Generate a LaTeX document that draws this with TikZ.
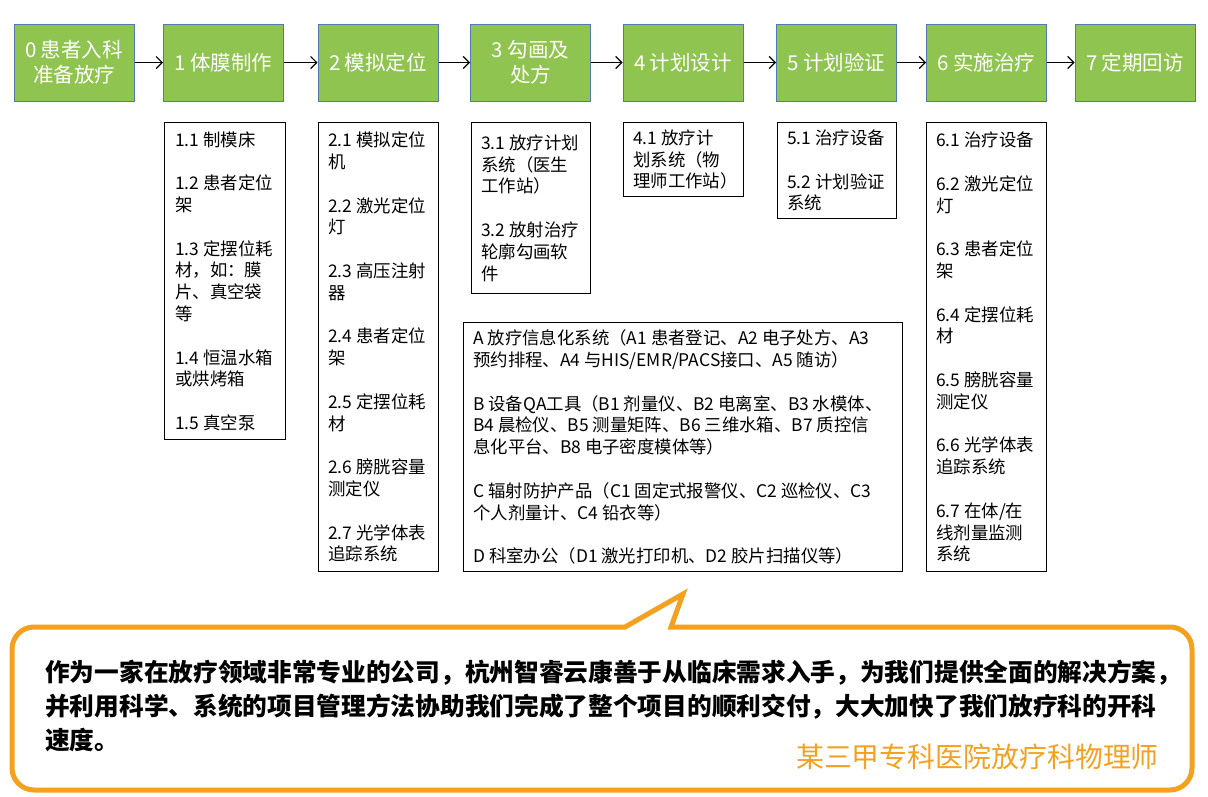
\documentclass[tikz,border=0pt]{standalone}
\usepackage{fontspec}
\setmainfont{Noto Sans CJK SC}
\usetikzlibrary{arrows.meta}
\definecolor{gfill}{HTML}{8FC450}
\definecolor{gline}{HTML}{4F7BB0}
\definecolor{org}{HTML}{F3A11F}
\begin{document}
\begin{tikzpicture}[x=1pt,y=-1pt,
  stage/.style={draw=gline, line width=1pt, fill=gfill, minimum width=120pt, minimum height=77pt,
    text=white, font=\fontsize{20.5}{25}\selectfont, align=center, inner sep=0pt},
  subbox/.style={draw=black, line width=1.1pt, fill=white, anchor=north west, inner sep=0pt},
  subtext/.style={anchor=west, align=left, inner sep=0pt, font=\fontsize{17.4}{21.8}\selectfont},
  conn/.style={-{Straight Barb[length=6pt,width=12pt]}, line width=1.2pt},
  callout/.style={draw=org, line width=5pt, line join=miter},
]
\useasboundingbox (0,0) rectangle (1208,796);
\fill[white] (0,0) rectangle (1208,796);

% stages
\node[stage] (s0) at (74,62.5) {0 患者入科\\准备放疗};
\node[stage] (s1) at (223.5,62.5) {1 体膜制作};
\node[stage] (s2) at (378,62.5) {2 模拟定位};
\node[stage] (s3) at (530.5,62.5) {3 勾画及\\处方};
\node[stage] (s4) at (683,62.5) {4 计划设计};
\node[stage] (s5) at (836.5,62.5) {5 计划验证};
\node[stage] (s6) at (986.5,62.5) {6 实施治疗};
\node[stage] (s7) at (1135,62.5) {7 定期回访};

\draw[conn] (s0) -- (s1);
\draw[conn] (s1) -- (s2);
\draw[conn] (s2) -- (s3);
\draw[conn] (s3) -- (s4);
\draw[conn] (s4) -- (s5);
\draw[conn] (s5) -- (s6);
\draw[conn] (s6) -- (s7);

% sub boxes
\node[subbox, minimum width=121pt, minimum height=317pt] (b1) at (164,122) {};
\node[subtext] (t1) at ([xshift=11pt]b1.west) {1.1 制模床\\[21.8pt]1.2 患者定位\\架\\[21.8pt]1.3 定摆位耗\\材，如：膜\\片、真空袋\\等\\[21.8pt]1.4 恒温水箱\\或烘烤箱\\[21.8pt]1.5 真空泵};

\node[subbox, minimum width=120pt, minimum height=449pt] (b2) at (318,122) {};
\node[subtext] (t2) at ([xshift=10pt]b2.west) {2.1 模拟定位\\机\\[21.8pt]2.2 激光定位\\灯\\[21.8pt]2.3 高压注射\\器\\[21.8pt]2.4 患者定位\\架\\[21.8pt]2.5 定摆位耗\\材\\[21.8pt]2.6 膀胱容量\\测定仪\\[21.8pt]2.7 光学体表\\追踪系统};

\node[subbox, minimum width=119pt, minimum height=171pt] (b3) at (471,122) {};
\node[subtext] (t3) at ([xshift=10pt]b3.west) {3.1 放疗计划\\系统（医生\\工作站）\\[21.8pt]3.2 放射治疗\\轮廓勾画软\\件};

\node[subbox, minimum width=120pt, minimum height=74pt] (b4) at (623,122) {};
\node[subtext] (t4) at ([xshift=10pt]b4.west) {4.1 放疗计\\划系统（物\\理师工作站）};

\node[subbox, minimum width=119pt, minimum height=96pt] (b5) at (777,122) {};
\node[subtext] (t5) at ([xshift=10pt]b5.west) {5.1 治疗设备\\[21.8pt]5.2 计划验证\\系统};

\node[subbox, minimum width=120pt, minimum height=449pt] (b6) at (926,122) {};
\node[subtext] (t6) at ([xshift=10pt]b6.west) {6.1 治疗设备\\[21.8pt]6.2 激光定位\\灯\\[21.8pt]6.3 患者定位\\架\\[21.8pt]6.4 定摆位耗\\材\\[21.8pt]6.5 膀胱容量\\测定仪\\[21.8pt]6.6 光学体表\\追踪系统\\[21.8pt]6.7 在体/在\\线剂量监测\\系统};

\node[subbox, minimum width=439pt, minimum height=249pt] (bA) at (463,322) {};
\node[subtext] (tA) at ([xshift=10pt]bA.west) {A 放疗信息化系统（A1 患者登记、A2 电子处方、A3\\预约排程、A4 与HIS/EMR/PACS接口、A5 随访）\\[21.8pt]B 设备QA工具（B1 剂量仪、B2 电离室、B3 水模体、\\B4 晨检仪、B5 测量矩阵、B6 三维水箱、B7 质控信\\息化平台、B8 电子密度模体等）\\[21.8pt]C 辐射防护产品（C1 固定式报警仪、C2 巡检仪、C3\\个人剂量计、C4 铅衣等）\\[21.8pt]D 科室办公（D1 激光打印机、D2 胶片扫描仪等）};

% callout
\draw[callout] (34,627) -- (625,627) -- (683,594) -- (671,627) -- (1170,627)
  arc[start angle=-90,end angle=0,radius=22] -- (1192,768)
  arc[start angle=0,end angle=90,radius=22] -- (34,790)
  arc[start angle=90,end angle=180,radius=22] -- (12,649)
  arc[start angle=180,end angle=270,radius=22] -- cycle;

\node[anchor=west, align=left, inner sep=0pt, font=\fontsize{24.7}{34}\selectfont\bfseries] (quote) at (45,706)
  {作为一家在放疗领域非常专业的公司，杭州智睿云康善于从临床需求入手，为我们提供全面的解决方案，\\并利用科学、系统的项目管理方法协助我们完成了整个项目的顺利交付，大大加快了我们放疗科的开科\\速度。};
\node[anchor=east, inner sep=0pt, text=org, font=\fontsize{27.9}{32}\selectfont] (author) at (1159,757) {某三甲专科医院放疗科物理师};
\end{tikzpicture}
\end{document}
